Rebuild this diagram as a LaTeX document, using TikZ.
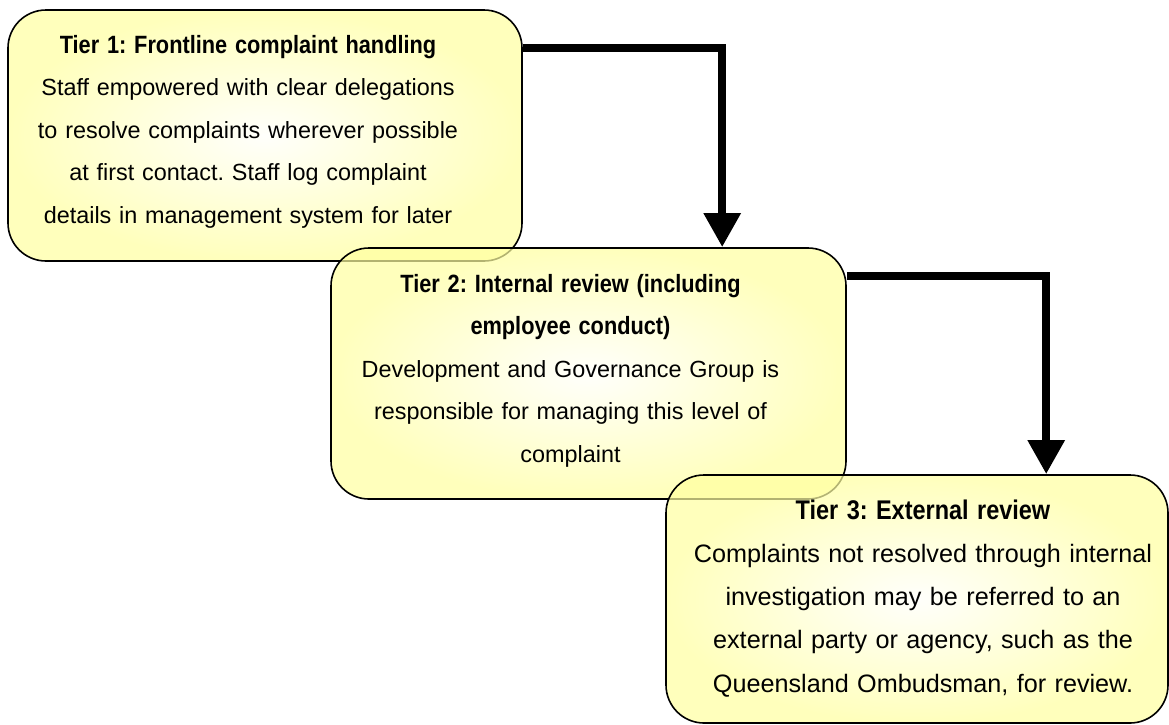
\documentclass[tikz,border=0pt]{standalone}
\usepackage{fontspec}
\setmainfont{Liberation Sans}
\newfontfamily\tierheadfont[FakeStretch=0.87]{Liberation Sans Bold}
\usetikzlibrary{calc, arrows.meta}
\definecolor{tieryellow}{RGB}{255,255,160}
\definecolor{tiercentre}{RGB}{255,255,250}
\newcommand{\tierhead}[2][25]{{\fontsize{#1}{42.5}\tierheadfont #2}}
\frenchspacing

\begin{document}
\begin{tikzpicture}[x=1pt, y=1pt,
	tierbox/.style={draw, line width=1.6pt, rounded corners=38pt, inner sep=0pt,
		shading=radial, inner color=tiercentre, outer color=tieryellow, fill opacity=0.7},
	tiertext/.style={anchor=base, text width=500pt, align=center, inner sep=0pt,
		font=\fontsize{23.4}{42.5}\selectfont},
	flowarrow/.style={line width=8.5pt, line join=miter, -{Triangle[width=35pt, length=34pt]}}]
		\useasboundingbox (0,0) rectangle (1169,-724);
		% the three tiers
		\node[tierbox, minimum width=514pt, minimum height=251pt] (b1) at (265,-135.5) {};
		\node[tierbox, minimum width=515pt, minimum height=251pt] (b2) at (588.5,-373.5) {};
		\node[tierbox, minimum width=502pt, minimum height=248pt] (b3) at (917,-599) {};
		\node[tiertext] (t1) at ($(b1.north)+(-17,-44)$) {\tierhead{Tier 1: Frontline complaint handling}\\
			Staff empowered with clear delegations\\ to resolve complaints wherever possible\\
			at first contact. Staff log complaint\\ details in management system for later};
		\node[tiertext] (t2) at ($(b2.north)+(-18,-45)$) {\tierhead{Tier 2: Internal review (including}\\
			\tierhead{employee conduct)}\\ Development and Governance Group is\\
			responsible for managing this level of\\ complaint};
		\node[tiertext, font=\fontsize{25.2}{43.2}\selectfont] (t3) at ($(b3.north)+(6,-45)$) {\tierhead[27]{Tier 3: External review}\\
			Complaints not resolved through internal\\ investigation may be referred to an\\
			external party or agency, such as the\\ Queensland Ombudsman, for review.};
		% escalation
		\draw[flowarrow] ($(b1.north east)+(0,-39)$) -| ($(b2.north west)+(392,0)$);
		\draw[flowarrow] ($(b2.north east)+(0,-29)$) -| ($(b3.north west)+(381,0)$);
%		\draw[help lines, step=50] (0,-724) grid (1169,0);
	\end{tikzpicture}
\end{document}
